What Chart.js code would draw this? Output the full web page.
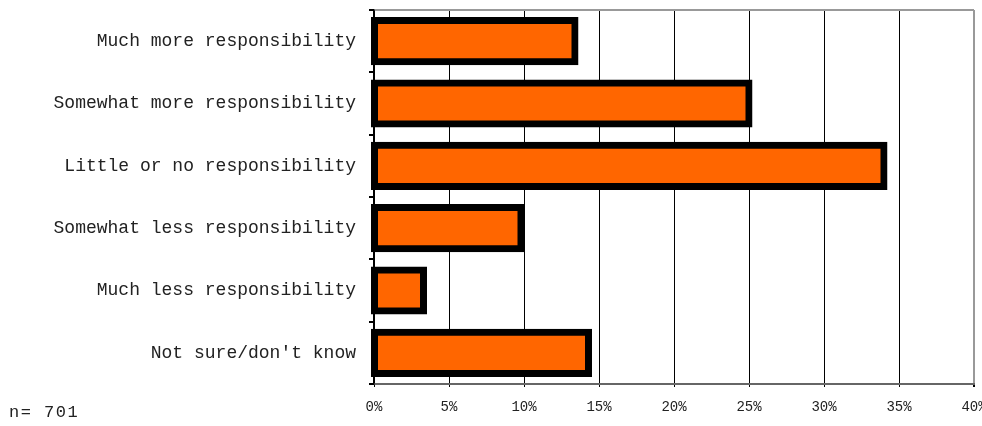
<!DOCTYPE html>
<html>
<head>
<meta charset="utf-8">
<script src="https://cdn.jsdelivr.net/npm/chart.js@4"></script>
<style>
  html, body { margin: 0; padding: 0; background: #fff; overflow: hidden; }
  #wrap { position: relative; width: 1000px; height: 426px; }
  #note { position: absolute; left: 9px; top: 403px; font: 17px "Liberation Mono", monospace; letter-spacing: 1.5px; color: #222; }
</style>
</head>
<body>
<div id="wrap">
  <canvas id="chart"></canvas>
  <div id="note">n= 701</div>
</div>
<script>
// answers, top to bottom
let categories = [
  "Much more responsibility",
  "Somewhat more responsibility",
  "Little or no responsibility",
  "Somewhat less responsibility",
  "Much less responsibility",
  "Not sure/don't know"
];
// percent of respondents
let shares = [13.4, 25.0, 34.0, 9.8, 3.3, 14.3];
let tickValues = [0, 5, 10, 15, 20, 25, 30, 35, 40];

let ctx = document.getElementById("chart");
let myChart = new Chart(ctx, {
  type: "bar",
  data: {
    labels: categories,
    datasets: [{
      data: shares,
      backgroundColor: "#FF6600",
      borderColor: "#000",
      borderWidth: 7,
      borderSkipped: false,
      inflateAmount: 3.5, //border sits centred on the bar edge
      clip: false,
      barPercentage: 0.66,
      categoryPercentage: 1
    }]
  },
  options: {
    indexAxis: "y",
    responsive: true,
    maintainAspectRatio: false,
    animation: false,
    layout: { padding: { top: 10, right: 26, bottom: 0, left: 0 } },
    plugins: { legend: { display: false }, tooltip: { enabled: false } },
    scales: {
      x: {
        min: 0,
        max: 40,
        afterBuildTicks: function (s) {
          s.ticks = tickValues.map(v => ({ value: v }));
        },
        afterFit: function (s) { s.height = 42; },
        border: { color: "#666", width: 2 },
        grid: {
          color: function (c) { return c.tick && c.tick.value === 40 ? "#999" : "#000"; },
          lineWidth: function (c) { return c.tick && c.tick.value === 40 ? 2 : 1; },
          tickColor: "#000",
          tickLength: 3
        },
        ticks: {
          padding: 12,
          color: "#222",
          maxRotation: 0,
          font: { family: "Liberation Mono", size: 14 },
          callback: function (v) { return v + "%"; }
        }
      },
      y: {
        afterFit: function (s) {
          //keep the plot top at the layout padding
          s.width = 374;
          s.paddingTop = 0;
          s.paddingBottom = 0;
        },
        border: { color: "#000", width: 1.5 },
        grid: {
          offset: true,
          color: function (c) { return c.index === 0 ? "#999" : "rgba(0,0,0,0)"; },
          lineWidth: 2,
          tickColor: "#000",
          tickLength: 5
        },
        ticks: {
          padding: 13,
          color: "#222",
          font: { family: "Liberation Mono", size: 18 }
        }
      }
    }
  }
});
</script>
</body>
</html>
